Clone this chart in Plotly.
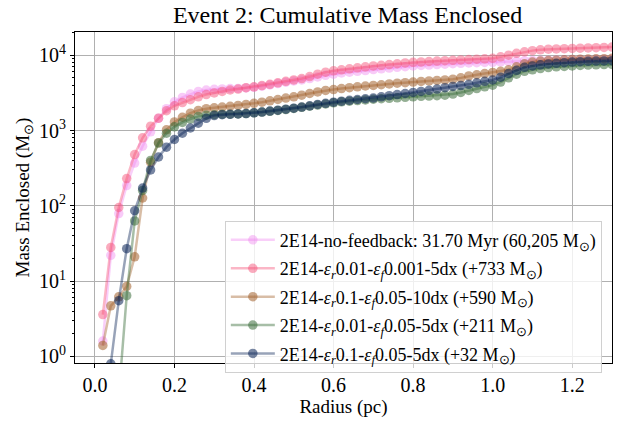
import plotly.graph_objects as go

radius = [0.02,0.04,0.06,0.08,0.10,0.12,0.14,0.16,0.18,0.20,
          0.22,0.24,0.26,0.28,0.30,0.32,0.34,0.36,0.38,0.40,
          0.42,0.44,0.46,0.48,0.50,0.52,0.54,0.56,0.58,0.60,
          0.62,0.64,0.66,0.68,0.70,0.72,0.74,0.76,0.78,0.80,
          0.82,0.84,0.86,0.88,0.90,0.92,0.94,0.96,0.98,1.00,
          1.02,1.04,1.06,1.08,1.10,1.12,1.14,1.16,1.18,1.20,
          1.22,1.24,1.26,1.28,1.30]

mass_no_feedback = [1.6,22,79,186,370,620,960,1450,1950,2400,
                    2750,3050,3300,3450,3530,3570,3600,3620,3680,3750,
                    3880,4020,4200,4380,4550,4700,4900,5150,5400,5600,
                    5800,5950,6100,6250,6450,6600,6750,6900,7050,7200,
                    7300,7400,7500,7600,7700,7800,7900,7950,8000,8050,
                    8150,8250,8350,8450,8500,8550,8600,8650,8700,8750,
                    8800,8800,8850,8850,8900]

mass_r001_f0001_5dx = [3.6,28,95,230,480,800,1140,1460,1830,2130,
                       2350,2570,2800,3000,3150,3300,3450,3550,3700,3800,
                       3950,4100,4300,4500,4700,4900,5200,5600,5950,6200,
                       6400,6600,6800,7000,7200,7350,7500,7700,7900,8050,
                       8150,8250,8350,8450,8550,8650,8750,8850,8950,9100,
                       9500,10000,10600,11100,11500,11800,12000,12100,12200,12300,
                       12400,12500,12600,12700,12800]

mass_r01_f005_10dx = [1.4,4.7,6.2,8.5,21,127,380,690,1020,1300,
                      1500,1700,1850,1950,2000,2050,2100,2150,2220,2300,
                      2380,2480,2580,2700,2800,2950,3100,3250,3400,3500,
                      3600,3700,3800,3900,3970,4050,4150,4250,4320,4400,
                      4480,4550,4620,4700,4800,5000,5300,5500,5700,5900,
                      6100,6400,7000,7700,8100,8350,8500,8600,8700,8800,
                      8850,8900,8950,9000,9100]

mass_r001_f005_5dx = [0.05,0.1,0.3,6.4,63,160,400,680,920,1120,
                      1280,1420,1540,1600,1620,1640,1650,1660,1680,1720,
                      1760,1800,1850,1900,1960,2030,2100,2180,2250,2330,
                      2400,2450,2500,2550,2600,2640,2680,2720,2760,2800,
                      2840,2870,2900,2950,3050,3200,3400,3600,3800,4000,
                      4400,5000,5600,6100,6400,6650,6850,7000,7100,7200,
                      7300,7400,7450,7500,7550]

mass_r01_f005_5dx = [0.3,0.8,5.5,27,86,172,300,445,600,760,
                     920,1080,1250,1450,1580,1620,1640,1660,1680,1720,
                     1760,1810,1860,1920,1980,2050,2130,2220,2300,2380,
                     2450,2520,2580,2640,2700,2800,2900,3000,3100,3200,
                     3300,3420,3550,3700,3850,3950,4100,4300,4500,4700,
                     5100,5700,6300,6900,7200,7450,7650,7800,7950,8100,
                     8200,8300,8350,8400,8450]

labels = [
    "2E14-no-feedback: 31.70 Myr (60,205 M<sub>⊙</sub>)",
    "2E14-<i>ε</i><sub><i>r</i></sub>0.01-<i>ε</i><sub><i>f</i></sub>0.001-5dx (+733 M<sub>⊙</sub>)",
    "2E14-<i>ε</i><sub><i>r</i></sub>0.1-<i>ε</i><sub><i>f</i></sub>0.05-10dx (+590 M<sub>⊙</sub>)",
    "2E14-<i>ε</i><sub><i>r</i></sub>0.01-<i>ε</i><sub><i>f</i></sub>0.05-5dx (+211 M<sub>⊙</sub>)",
    "2E14-<i>ε</i><sub><i>r</i></sub>0.1-<i>ε</i><sub><i>f</i></sub>0.05-5dx (+32 M<sub>⊙</sub>)",
]
series = [mass_no_feedback, mass_r001_f0001_5dx, mass_r01_f005_10dx,
          mass_r001_f005_5dx, mass_r01_f005_5dx]
base_rgb = [(238, 130, 238), (245, 80, 120), (163, 97, 43), (60, 110, 60), (10, 35, 85)]
line_alpha = [0.38, 0.42, 0.42, 0.45, 0.42]
marker_alpha = [0.42, 0.48, 0.55, 0.55, 0.55]

fig = go.Figure()
for i, (lab, ys) in enumerate(zip(labels, series)):
    r, g, b = base_rgb[i]
    fig.add_trace(go.Scatter(
        x=radius, y=ys, name=lab, mode="lines+markers",
        legendgroup=f"g{i}",
        line=dict(color=f"rgba({r},{g},{b},{line_alpha[i]})", width=2.5),
        marker=dict(color=f"rgba({r},{g},{b},{marker_alpha[i]})", size=9.5, line=dict(width=0)),
        cliponaxis=True,
    ))

font_family = "Liberation Serif"
fig.update_layout(
    width=624, height=424,
    margin=dict(l=75, r=11, t=32, b=53),
    paper_bgcolor="white", plot_bgcolor="white",
    font=dict(family=font_family, color="black", size=18),
    title=dict(text="Event 2: Cumulative Mass Enclosed", x=0.557, xanchor="center",
               y=0.965, yanchor="middle", font=dict(size=24, family=font_family)),
    showlegend=True,
    legend=dict(x=0.279, y=0.43, xanchor="left", yanchor="top",
                bgcolor="rgba(255,255,255,0.8)", bordercolor="#d0d0d0", borderwidth=1,
                font=dict(size=18, family=font_family), itemwidth=44,
                tracegroupgap=2),
)
fig.update_xaxes(
    range=[-0.05, 1.3], tickvals=[0.0, 0.2, 0.4, 0.6, 0.8, 1.0, 1.2],
    ticktext=["0.0", "0.2", "0.4", "0.6", "0.8", "1.0", "1.2"],
    showgrid=True, gridcolor="#b0b0b0", gridwidth=1,
    showline=True, linecolor="black", linewidth=1, mirror=True,
    ticks="outside", ticklen=4, tickcolor="black",
    tickfont=dict(size=20), zeroline=False,
    title=dict(text="Radius (pc)", font=dict(size=19), standoff=4),
)
fig.update_yaxes(
    type="log", range=[-0.087, 4.308],
    tickvals=[1, 10, 100, 1000, 10000],
    ticktext=["10<sup>0</sup>", "10<sup>1</sup>", "10<sup>2</sup>", "10<sup>3</sup>", "10<sup>4</sup>"],
    showgrid=True, gridcolor="#b0b0b0", gridwidth=1,
    showline=True, linecolor="black", linewidth=1, mirror=True,
    ticks="outside", ticklen=4, tickcolor="black",
    minor=dict(ticks="outside", ticklen=2, tickcolor="black", showgrid=False,
               tickvals=[2,3,4,5,6,7,8,9,20,30,40,50,60,70,80,90,200,300,400,500,600,700,800,900,
                         2000,3000,4000,5000,6000,7000,8000,9000,20000]),
    tickfont=dict(size=20), zeroline=False,
    title=dict(text="Mass Enclosed (M<sub>⊙</sub>)", font=dict(size=19), standoff=4),
)

fig.write_html("out.html")
